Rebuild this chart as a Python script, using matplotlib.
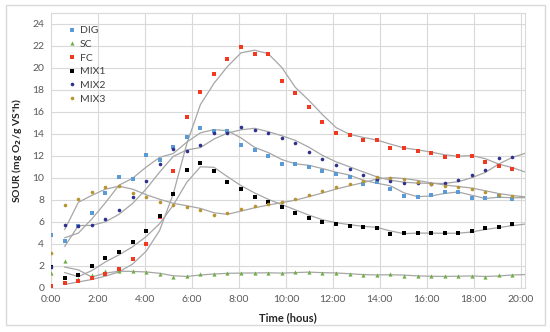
import matplotlib
matplotlib.use("Agg")
import matplotlib.pyplot as plt
from matplotlib.patches import Rectangle
from matplotlib.ticker import FixedLocator
import pandas as pd

# sampling times (hours); the last sample lies just past the axis end
time_h = [0, 0.58, 1.16, 1.73, 2.31, 2.89, 3.47, 4.05, 4.62, 5.2, 5.78, 6.36,
          6.94, 7.51, 8.09, 8.67, 9.25, 9.83, 10.4, 10.98, 11.56, 12.14, 12.72,
          13.29, 13.87, 14.45, 15.03, 15.61, 16.18, 16.76, 17.34, 17.92, 18.5,
          19.07, 19.65, 20.23]

dig = [4.81, 4.3, 5.66, 6.85, 8.62, 10.05, 9.88, 12.09, 11.63, 12.8, 13.7, 14.5,
       14.28, 14.3, 12.97, 12.58, 12.03, 11.3, 11.26, 11.03, 10.66, 10.38, 10.12,
       9.45, 9.59, 8.98, 8.31, 8.27, 8.44, 8.73, 8.71, 8.13, 8.13, 8.35, 8.04, 8.36]
sc = [1.31, 2.47, 0.8, 1.16, 1.52, 1.5, 1.49, 1.4, 1.25, 0.95, 1.12, 1.22,
      1.3, 1.34, 1.34, 1.37, 1.37, 1.31, 1.46, 1.4, 1.36, 1.35, 1.22, 1.19,
      1.16, 1.22, 1.1, 1.07, 1.04, 1.04, 1.08, 1.08, 0.99, 1.17, 1.17, 1.25]
fc = [0.16, 0.46, 0.61, 0.91, 1.22, 1.68, 2.65, 4.02, 6.4, 10.66, 15.56, 17.78,
      19.43, 20.82, 21.92, 21.31, 21.28, 18.79, 17.69, 16.41, 15.1, 14.04, 13.88,
      13.49, 13.4, 12.75, 12.7, 12.4, 12.3, 11.91, 12.03, 12.03, 11.46, 11.05,
      10.82, 10.2]
mix1 = [1.86, 0.91, 1.13, 2.0, 2.71, 3.29, 4.18, 5.15, 6.52, 8.5, 10.7, 11.32,
        10.6, 9.63, 8.96, 8.3, 7.8, 7.34, 6.85, 6.38, 6.0, 5.85, 5.63, 5.56,
        5.45, 4.9, 4.96, 5.0, 4.96, 4.96, 4.98, 5.18, 5.43, 5.54, 5.77, 5.85]
mix2 = [1.86, 5.7, 5.63, 5.73, 6.27, 7.1, 8.25, 9.74, 11.3, 12.6, 12.48, 13.03,
        14.04, 14.1, 14.65, 14.37, 14.04, 13.62, 13.21, 12.37, 11.72, 11.2, 10.8,
        10.3, 9.9, 9.68, 9.53, 9.53, 9.47, 9.53, 9.77, 10.26, 10.73, 11.8, 11.92,
        12.6]
mix3 = [3.14, 7.49, 8.07, 8.74, 9.2, 9.29, 8.66, 8.28, 7.83, 7.55, 7.38, 7.07,
        6.58, 6.8, 7.16, 7.4, 7.67, 7.83, 8.12, 8.47, 8.78, 9.18, 9.4, 9.73,
        10.06, 10.0, 9.88, 9.66, 9.44, 9.27, 9.17, 8.98, 8.68, 8.47, 8.33, 8.2]

x_ticks = [0, 2, 4, 6, 8, 10, 12, 14, 16, 18, 20]
x_tick_labels = ["0:00", "2:00", "4:00", "6:00", "8:00", "10:00", "12:00",
                 "14:00", "16:00", "18:00", "20:00"]

series = [
    ("DIG", dig, "s", "#5B9BD5", 2.6),
    ("SC", sc, "^", "#70AD47", 3.0),
    ("FC", fc, "s", "#F0391E", 3.4),
    ("MIX1", mix1, "s", "#000000", 3.4),
    ("MIX2", mix2, "o", "#2F2F8F", 2.6),
    ("MIX3", mix3, "o", "#B8942E", 2.6),
]

plt.rcParams['font.family'] = ['Lato', 'DejaVu Sans']

fig = plt.figure(figsize=(5.5, 3.32), dpi=100)
ax = fig.add_axes([0.093, 0.133, 0.862, 0.828])

# outer chart frame
fig.patches.append(Rectangle((6 / 550, 7 / 332), 539 / 550, 320 / 332,
                             transform=fig.transFigure, fill=False,
                             edgecolor="#d9d9d9", linewidth=1.0))

# 2-period moving-average trend lines (as in the spreadsheet)
for name, vals, marker, color, ms in series:
    trend = pd.Series(vals).rolling(2).mean()
    ax.plot(time_h, trend, color="#a6a6a6", linewidth=0.9, zorder=2)

# markers only for samples inside the axis range
for name, vals, marker, color, ms in series:
    ax.plot(time_h[:-1], vals[:-1], linestyle="none", marker=marker,
            markersize=ms, color=color, markeredgewidth=0, label=name, zorder=3)

ax.set_xlim(0, 20.2)
ax.set_ylim(0, 25)
ax.xaxis.set_major_locator(FixedLocator(x_ticks))
ax.set_xticklabels(x_tick_labels)
ax.set_yticks(range(0, 25, 2))
ax.grid(True, color="#d9d9d9", linewidth=0.8)
ax.set_axisbelow(True)
for sp in ax.spines.values():
    sp.set_color("#d9d9d9")
    sp.set_linewidth(0.8)
ax.tick_params(length=0, labelsize=7.5, colors="#595959", pad=5)

ax.set_xlabel("Time (hous)", fontsize=8, fontweight="bold", color="#262626",
              labelpad=6)
ax.set_ylabel("SOUR (mg O$_\\mathbf{2}$/g VS*h)", fontsize=7.5,
              fontweight="bold", color="#262626", labelpad=6)

ax.legend(loc="upper left", bbox_to_anchor=(0.025, 0.975), frameon=False,
          fontsize=7.5, handlelength=0.6, handletextpad=0.4, labelspacing=0.42,
          borderaxespad=0.2, labelcolor="#404040")

fig.savefig("out.png", dpi=100)
